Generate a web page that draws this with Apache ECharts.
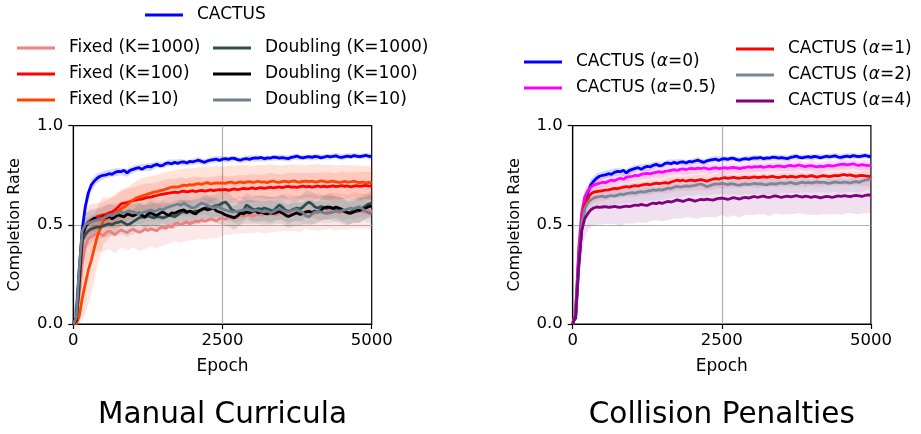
<!DOCTYPE html>
<html>
<head>
<meta charset="utf-8">
<script src="https://cdn.jsdelivr.net/npm/echarts@6/dist/echarts.min.js"></script>
<style>
html,body{margin:0;padding:0;background:#fff;}
#chart{width:921px;height:434px;}
</style>
</head>
<body>
<div id="chart"></div>
<script>
// ---------- DATA ----------
const epochStep = 50;           // line samples every 50 epochs (0..5000)
const bandStep = 100;           // band half-widths every 100 epochs (0..5000)
const xTicks = [0, 2500, 5000];
const yTicks = [0.0, 0.5, 1.0];
const panelTitles = ['Manual Curricula', 'Collision Penalties'];

// Left panel: Manual Curricula
const cactus = [
0.01,0.03,0.28,0.48,0.59,0.66,0.70,0.72,0.735,0.745,
0.75,0.752,0.758,0.755,0.765,0.77,0.768,0.775,0.762,0.775,
0.78,0.785,0.788,0.78,0.79,0.795,0.792,0.80,0.805,0.798,
0.80,0.81,0.812,0.808,0.815,0.81,0.816,0.818,0.812,0.82,
0.818,0.822,0.826,0.82,0.815,0.823,0.826,0.829,0.831,0.825,
0.832,0.834,0.83,0.836,0.835,0.829,0.826,0.832,0.834,0.83,
0.835,0.838,0.836,0.84,0.833,0.838,0.836,0.842,0.84,0.837,
0.839,0.836,0.834,0.84,0.843,0.847,0.84,0.838,0.841,0.844,
0.84,0.845,0.843,0.838,0.842,0.846,0.843,0.845,0.848,0.842,
0.84,0.844,0.847,0.843,0.849,0.846,0.844,0.847,0.85,0.846,
0.844];
const fixed1000 = [
0.0,0.01,0.15,0.30,0.39,0.43,0.44,0.45,0.46,0.455,
0.445,0.46,0.47,0.46,0.45,0.465,0.475,0.468,0.46,0.472,
0.478,0.47,0.462,0.468,0.478,0.472,0.48,0.475,0.47,0.485,
0.49,0.482,0.495,0.488,0.505,0.51,0.5,0.508,0.515,0.505,
0.512,0.52,0.515,0.525,0.518,0.522,0.53,0.525,0.52,0.532,
0.535,0.528,0.54,0.532,0.545,0.538,0.55,0.542,0.548,0.552,
0.545,0.55,0.556,0.548,0.553,0.56,0.552,0.558,0.55,0.556,
0.562,0.555,0.56,0.552,0.558,0.565,0.556,0.562,0.568,0.558,
0.563,0.556,0.565,0.57,0.56,0.566,0.572,0.562,0.567,0.56,
0.566,0.572,0.563,0.568,0.574,0.565,0.57,0.563,0.568,0.572,
0.567];
const fixed100 = [
0.0,0.02,0.2,0.42,0.49,0.515,0.525,0.53,0.54,0.545,
0.55,0.553,0.56,0.565,0.575,0.59,0.605,0.61,0.612,0.618,
0.622,0.625,0.628,0.63,0.635,0.638,0.64,0.645,0.648,0.652,
0.655,0.658,0.66,0.663,0.665,0.662,0.667,0.67,0.666,0.669,
0.672,0.668,0.671,0.674,0.67,0.673,0.676,0.672,0.675,0.678,
0.676,0.679,0.674,0.678,0.681,0.677,0.68,0.684,0.681,0.683,
0.686,0.682,0.685,0.688,0.684,0.687,0.69,0.686,0.689,0.692,
0.688,0.691,0.694,0.69,0.692,0.689,0.693,0.695,0.691,0.694,
0.69,0.693,0.696,0.692,0.695,0.691,0.694,0.697,0.693,0.695,
0.698,0.694,0.696,0.692,0.695,0.698,0.694,0.697,0.699,0.695,
0.697];
const fixed10 = [
0.0,0.0,0.04,0.13,0.20,0.27,0.32,0.38,0.44,0.48,
0.52,0.53,0.535,0.55,0.56,0.57,0.58,0.59,0.60,0.615,
0.625,0.635,0.64,0.645,0.65,0.655,0.66,0.665,0.668,0.672,
0.675,0.68,0.685,0.69,0.692,0.69,0.695,0.7,0.698,0.703,
0.7,0.705,0.708,0.704,0.71,0.713,0.706,0.709,0.712,0.71,
0.712,0.709,0.714,0.716,0.71,0.713,0.717,0.712,0.715,0.718,
0.714,0.716,0.72,0.715,0.717,0.713,0.718,0.721,0.716,0.714,
0.718,0.72,0.716,0.719,0.722,0.717,0.715,0.719,0.721,0.718,
0.72,0.716,0.718,0.722,0.719,0.715,0.718,0.72,0.717,0.714,
0.716,0.719,0.715,0.717,0.72,0.716,0.713,0.715,0.712,0.714,
0.71];
const doubling1000 = [
0.0,0.02,0.2,0.42,0.45,0.47,0.48,0.485,0.49,0.488,
0.495,0.5,0.505,0.50,0.51,0.512,0.518,0.51,0.5,0.505,
0.515,0.525,0.535,0.54,0.538,0.545,0.54,0.535,0.542,0.54,
0.535,0.54,0.548,0.545,0.54,0.55,0.562,0.566,0.56,0.568,
0.565,0.57,0.568,0.575,0.582,0.59,0.585,0.592,0.598,0.60,
0.61,0.615,0.6,0.578,0.57,0.565,0.56,0.572,0.6,0.59,
0.58,0.575,0.582,0.578,0.585,0.58,0.575,0.57,0.585,0.6,
0.59,0.575,0.568,0.572,0.58,0.585,0.58,0.59,0.605,0.615,
0.605,0.59,0.585,0.592,0.588,0.582,0.59,0.585,0.578,0.575,
0.57,0.565,0.56,0.565,0.572,0.568,0.575,0.585,0.595,0.605,
0.61];
const doubling100 = [
0.0,0.02,0.25,0.45,0.49,0.51,0.52,0.535,0.525,0.53,
0.54,0.535,0.545,0.53,0.54,0.55,0.545,0.54,0.555,0.55,
0.545,0.552,0.56,0.548,0.54,0.555,0.56,0.552,0.548,0.558,
0.565,0.555,0.548,0.56,0.558,0.566,0.572,0.575,0.565,0.57,
0.56,0.555,0.57,0.578,0.583,0.575,0.58,0.585,0.57,0.565,
0.558,0.55,0.545,0.54,0.535,0.545,0.56,0.555,0.565,0.56,
0.566,0.572,0.56,0.565,0.558,0.555,0.562,0.558,0.562,0.568,
0.56,0.55,0.542,0.548,0.555,0.56,0.552,0.558,0.565,0.568,
0.562,0.57,0.565,0.574,0.585,0.59,0.588,0.582,0.59,0.585,
0.578,0.57,0.56,0.558,0.565,0.575,0.572,0.58,0.585,0.592,
0.595];
const doubling10 = [
0.0,0.03,0.28,0.47,0.5,0.51,0.515,0.52,0.525,0.53,
0.535,0.54,0.55,0.545,0.555,0.56,0.565,0.56,0.568,0.57,
0.565,0.56,0.555,0.56,0.565,0.57,0.575,0.568,0.572,0.58,
0.575,0.585,0.59,0.595,0.6,0.605,0.598,0.61,0.6,0.592,
0.585,0.59,0.6,0.61,0.605,0.598,0.59,0.585,0.592,0.588,
0.58,0.575,0.57,0.566,0.565,0.568,0.572,0.575,0.58,0.578,
0.57,0.575,0.572,0.568,0.565,0.57,0.562,0.565,0.575,0.58,
0.575,0.568,0.565,0.57,0.575,0.578,0.57,0.56,0.545,0.54,
0.555,0.565,0.568,0.565,0.56,0.558,0.56,0.565,0.57,0.568,
0.572,0.575,0.58,0.585,0.58,0.588,0.59,0.58,0.568,0.56,
0.558];

// Right panel: Collision Penalties
const alpha0 = cactus;
const alpha05 = [
0.0,0.06,0.38,0.56,0.64,0.67,0.69,0.70,0.705,0.71,
0.715,0.712,0.72,0.726,0.722,0.73,0.735,0.73,0.74,0.743,
0.745,0.75,0.748,0.755,0.758,0.76,0.757,0.762,0.765,0.768,
0.765,0.77,0.772,0.775,0.778,0.774,0.78,0.782,0.778,0.783,
0.785,0.782,0.786,0.783,0.788,0.784,0.781,0.786,0.788,0.784,
0.786,0.789,0.785,0.788,0.79,0.787,0.784,0.788,0.79,0.793,
0.79,0.794,0.792,0.795,0.79,0.793,0.796,0.792,0.795,0.798,
0.795,0.792,0.797,0.8,0.796,0.798,0.802,0.797,0.794,0.797,
0.799,0.795,0.792,0.796,0.794,0.797,0.8,0.796,0.799,0.803,
0.805,0.806,0.802,0.805,0.808,0.803,0.8,0.804,0.801,0.799,
0.80];
const alpha1 = [
0.0,0.05,0.33,0.52,0.6,0.63,0.655,0.665,0.667,0.67,
0.672,0.675,0.676,0.68,0.684,0.682,0.687,0.69,0.693,0.69,
0.695,0.698,0.695,0.7,0.703,0.705,0.702,0.707,0.71,0.708,
0.71,0.713,0.71,0.716,0.72,0.726,0.722,0.725,0.72,0.724,
0.726,0.722,0.725,0.728,0.724,0.72,0.726,0.73,0.733,0.731,
0.735,0.738,0.734,0.737,0.74,0.736,0.735,0.738,0.74,0.737,
0.739,0.742,0.738,0.74,0.743,0.739,0.742,0.745,0.741,0.738,
0.742,0.745,0.741,0.744,0.743,0.74,0.744,0.747,0.743,0.745,
0.748,0.744,0.741,0.745,0.748,0.746,0.743,0.746,0.749,0.747,
0.751,0.754,0.75,0.752,0.748,0.745,0.748,0.75,0.747,0.744,
0.745];
const alpha2 = [
0.0,0.05,0.32,0.5,0.58,0.61,0.625,0.635,0.64,0.642,
0.645,0.64,0.645,0.648,0.645,0.65,0.655,0.652,0.658,0.66,
0.662,0.66,0.665,0.668,0.665,0.67,0.672,0.676,0.674,0.678,
0.675,0.68,0.685,0.683,0.69,0.694,0.69,0.693,0.697,0.694,
0.696,0.699,0.703,0.706,0.7,0.692,0.698,0.703,0.707,0.705,
0.709,0.706,0.703,0.708,0.705,0.702,0.7,0.704,0.707,0.703,
0.706,0.709,0.705,0.708,0.704,0.702,0.706,0.708,0.705,0.709,
0.712,0.708,0.711,0.714,0.71,0.707,0.712,0.715,0.711,0.714,
0.71,0.714,0.717,0.713,0.716,0.712,0.709,0.713,0.717,0.714,
0.712,0.716,0.714,0.711,0.715,0.718,0.714,0.72,0.725,0.728,
0.73];
const alpha4 = [
0.0,0.04,0.3,0.47,0.53,0.555,0.575,0.585,0.59,0.588,
0.59,0.592,0.588,0.59,0.593,0.59,0.588,0.592,0.594,0.592,
0.596,0.6,0.598,0.603,0.6,0.598,0.605,0.61,0.607,0.612,
0.608,0.614,0.618,0.615,0.62,0.626,0.622,0.618,0.624,0.628,
0.625,0.62,0.624,0.628,0.626,0.63,0.627,0.625,0.63,0.633,
0.635,0.632,0.628,0.633,0.637,0.634,0.63,0.636,0.639,0.635,
0.64,0.643,0.638,0.642,0.645,0.64,0.638,0.643,0.646,0.642,
0.638,0.642,0.645,0.641,0.644,0.647,0.643,0.64,0.645,0.642,
0.639,0.643,0.641,0.636,0.64,0.644,0.642,0.638,0.642,0.646,
0.643,0.647,0.645,0.642,0.646,0.649,0.646,0.643,0.648,0.651,
0.65];

// Band half-widths (std), every 100 epochs
const bandCactus = [0,0.06,0.04,0.03,0.025,0.02,0.02,0.02,0.018,0.02,
0.018,0.016,0.018,0.02,0.016,0.015,0.017,0.015,0.016,0.014,
0.015,0.016,0.014,0.015,0.017,0.014,0.015,0.013,0.015,0.014,
0.015,0.016,0.014,0.013,0.015,0.014,0.016,0.015,0.014,0.013,
0.015,0.014,0.013,0.015,0.014,0.016,0.014,0.013,0.015,0.014,0.014];
const bandFixed1000 = [0,0.08,0.12,0.1,0.09,0.085,0.09,0.095,0.088,0.092,
0.09,0.095,0.1,0.092,0.088,0.094,0.09,0.086,0.092,0.095,
0.09,0.087,0.093,0.096,0.09,0.085,0.092,0.088,0.094,0.09,
0.087,0.092,0.095,0.09,0.086,0.091,0.094,0.089,0.092,0.088,
0.09,0.093,0.087,0.091,0.095,0.09,0.088,0.092,0.089,0.086,0.09];
const bandFixed100 = [0,0.1,0.1,0.08,0.07,0.065,0.07,0.068,0.072,0.07,
0.068,0.07,0.074,0.07,0.066,0.07,0.073,0.069,0.071,0.068,
0.07,0.072,0.069,0.066,0.07,0.074,0.07,0.067,0.071,0.069,
0.072,0.068,0.07,0.073,0.069,0.066,0.07,0.072,0.068,0.07,
0.071,0.067,0.07,0.073,0.069,0.071,0.068,0.07,0.072,0.069,0.07];
const bandFixed10 = [0,0.04,0.15,0.17,0.15,0.12,0.1,0.095,0.09,0.088,
0.085,0.088,0.09,0.086,0.084,0.088,0.085,0.082,0.086,0.088,
0.084,0.082,0.086,0.088,0.084,0.08,0.085,0.087,0.083,0.086,
0.084,0.081,0.085,0.088,0.084,0.082,0.086,0.083,0.085,0.081,
0.084,0.087,0.083,0.085,0.082,0.086,0.084,0.081,0.085,0.083,0.084];
const bandDoubling1000 = [0,0.1,0.08,0.07,0.065,0.06,0.065,0.062,0.066,0.06,
0.063,0.067,0.061,0.064,0.068,0.062,0.065,0.06,0.064,0.067,
0.062,0.065,0.068,0.063,0.06,0.064,0.066,0.062,0.065,0.061,
0.064,0.067,0.062,0.065,0.06,0.063,0.066,0.062,0.064,0.067,
0.063,0.06,0.064,0.066,0.061,0.065,0.063,0.06,0.064,0.062,0.063];
const bandDoubling100 = [0,0.1,0.07,0.06,0.058,0.055,0.06,0.057,0.055,0.06,
0.058,0.055,0.06,0.062,0.057,0.055,0.059,0.061,0.056,0.058,
0.06,0.057,0.055,0.059,0.062,0.058,0.055,0.06,0.057,0.059,
0.061,0.056,0.058,0.06,0.057,0.055,0.059,0.061,0.057,0.058,
0.06,0.056,0.059,0.057,0.055,0.06,0.058,0.056,0.059,0.057,0.058];
const bandDoubling10 = [0,0.09,0.06,0.055,0.052,0.05,0.054,0.051,0.053,0.05,
0.052,0.055,0.05,0.053,0.051,0.054,0.05,0.052,0.055,0.051,
0.053,0.05,0.054,0.052,0.05,0.053,0.055,0.051,0.052,0.054,
0.05,0.053,0.051,0.054,0.052,0.05,0.053,0.055,0.051,0.052,
0.054,0.05,0.053,0.051,0.054,0.052,0.05,0.053,0.051,0.052,0.053];
const bandAlpha05 = [0,0.06,0.04,0.03,0.028,0.025,0.027,0.025,0.024,0.026,
0.025,0.023,0.026,0.024,0.025,0.027,0.024,0.023,0.025,0.026,
0.024,0.025,0.023,0.026,0.024,0.025,0.027,0.024,0.023,0.025,
0.026,0.024,0.025,0.023,0.026,0.024,0.025,0.027,0.024,0.023,
0.025,0.026,0.024,0.025,0.023,0.026,0.024,0.025,0.024,0.026,0.025];
const bandAlpha1 = [0,0.07,0.06,0.055,0.05,0.052,0.05,0.048,0.051,0.05,
0.053,0.049,0.05,0.052,0.048,0.051,0.05,0.053,0.049,0.05,
0.052,0.05,0.048,0.051,0.053,0.05,0.049,0.052,0.05,0.048,
0.051,0.053,0.05,0.049,0.052,0.05,0.048,0.051,0.05,0.053,
0.049,0.05,0.052,0.048,0.051,0.05,0.053,0.049,0.05,0.052,0.05];
const bandAlpha2 = [0,0.07,0.06,0.055,0.052,0.05,0.053,0.05,0.048,0.052,
0.05,0.053,0.049,0.051,0.05,0.048,0.052,0.05,0.053,0.049,
0.051,0.05,0.052,0.048,0.05,0.053,0.051,0.049,0.05,0.052,
0.05,0.048,0.052,0.05,0.053,0.049,0.051,0.05,0.052,0.048,
0.05,0.053,0.051,0.049,0.05,0.052,0.05,0.048,0.052,0.05,0.051];
const bandAlpha4 = [0,0.08,0.09,0.085,0.09,0.088,0.082,0.09,0.095,0.086,
0.09,0.084,0.092,0.088,0.083,0.09,0.094,0.087,0.091,0.085,
0.09,0.093,0.086,0.089,0.092,0.085,0.09,0.088,0.094,0.087,
0.091,0.085,0.09,0.093,0.088,0.086,0.092,0.089,0.085,0.091,
0.088,0.093,0.086,0.09,0.087,0.092,0.085,0.089,0.093,0.088,0.09];

// ---------- CHART ----------
const FONT = 'DejaVu Sans';
const epochs = [];
for (let e = 0; e <= 5000; e += epochStep) epochs.push(e);
const bandEpochs = [];
for (let e = 0; e <= 5000; e += bandStep) bandEpochs.push(e);

const chart = echarts.init(document.getElementById('chart'), null, {renderer: 'canvas'});

function lineSeries(name, values, color, idx, z) {
  return {
    name, type: 'line', xAxisIndex: idx, yAxisIndex: idx,
    data: epochs.map((x, i) => [x, values[i]]),
    showSymbol: false, symbol: 'none', color,
    lineStyle: {width: 2.8, color}, z: z, silent: true, animation: false
  };
}
function bandSeries(values, widths, color, idx, opacity) {
  const ratio = bandStep / epochStep;
  const data = bandEpochs.map((x, i) => {
    const m = values[i * ratio];
    return [x, Math.max(0, m - widths[i]), Math.min(1, m + widths[i])];
  });
  return {
    type: 'custom', xAxisIndex: idx, yAxisIndex: idx, silent: true, z: 1,
    clip: true, animation: false,
    encode: {x: 0, y: [1, 2]},
    data,
    renderItem: function (params, api) {
      if (params.dataIndex !== 0) return null;
      const pts = [];
      for (let i = 0; i < data.length; i++) pts.push(api.coord([data[i][0], data[i][2]]));
      for (let i = data.length - 1; i >= 0; i--) pts.push(api.coord([data[i][0], data[i][1]]));
      return {type: 'polygon', shape: {points: pts}, style: {fill: color, opacity: opacity}};
    }
  };
}

const grids = [
  {left: 73.3, top: 125.7, width: 298.4, height: 198.3},
  {left: 572.7, top: 125.7, width: 298.2, height: 198.3}
];
function xAxis(idx) {
  return {
    type: 'value', gridIndex: idx, min: xTicks[0], max: xTicks[xTicks.length - 1], interval: xTicks[1] - xTicks[0],
    name: 'Epoch', nameLocation: 'middle', nameGap: 34,
    nameTextStyle: {fontFamily: FONT, fontSize: 17, color: '#000'},
    axisLine: {show: true, onZero: false, lineStyle: {color: '#000', width: 1.2}},
    axisTick: {show: true, length: 5, inside: false, lineStyle: {color: '#000', width: 1.2}},
    axisLabel: {fontFamily: FONT, fontSize: 16.5, color: '#000', margin: 8, showMinLabel: true, showMaxLabel: true, formatter: v => String(v)},
    splitLine: {show: true, showMinLine: false, showMaxLine: false, lineStyle: {color: '#b0b0b0', width: 1.2}}
  };
}
function yAxis(idx) {
  return {
    type: 'value', gridIndex: idx, min: yTicks[0], max: yTicks[yTicks.length - 1], interval: yTicks[1] - yTicks[0],
    name: 'Completion Rate', nameLocation: 'middle', nameGap: 50,
    nameTextStyle: {fontFamily: FONT, fontSize: 16, color: '#000'},
    axisLine: {show: true, onZero: false, lineStyle: {color: '#000', width: 1.2}},
    axisTick: {show: true, length: 5, inside: false, lineStyle: {color: '#000', width: 1.2}},
    axisLabel: {fontFamily: FONT, fontSize: 16.5, color: '#000', margin: 10, formatter: v => v.toFixed(1)},
    splitLine: {show: true, showMinLine: false, showMaxLine: false, lineStyle: {color: '#b0b0b0', width: 1.2}}
  };
}

const legendText = {
  fontFamily: FONT, fontSize: 17, color: '#000', lineHeight: 26,
  rich: {
    sp: {width: 9, lineHeight: 26},
    t: {fontFamily: FONT, fontSize: 17, lineHeight: 26, color: '#000'},
    i: {fontFamily: FONT, fontSize: 17, lineHeight: 26, color: '#000', fontStyle: 'italic'}
  }
};
function legendFormatter(name) {
  const m = name.match(/^(.*)α(.*)$/);
  if (m) return '{sp|}{t|' + m[1] + '}{i|α}{t|' + m[2] + '}';
  return '{sp|}{t|' + name + '}';
}
function legend(names, left, top) {
  return {
    data: names, left, top, orient: 'vertical', padding: 0, itemGap: 0,
    icon: 'rect', itemWidth: 38, itemHeight: 3, selectedMode: false,
    textStyle: legendText, formatter: legendFormatter
  };
}

const option = {
  animation: false,
  backgroundColor: '#fff',
  grid: grids.map(g => Object.assign({show: true, borderColor: '#000', borderWidth: 1.2, backgroundColor: 'transparent', containLabel: false}, g)),
  xAxis: [xAxis(0), xAxis(1)],
  yAxis: [yAxis(0), yAxis(1)],
  legend: [
    legend(['CACTUS'], 145, 2),
    legend(['Fixed (K=1000)', 'Fixed (K=100)', 'Fixed (K=10)'], 17, 35),
    legend(['Doubling (K=1000)', 'Doubling (K=100)', 'Doubling (K=10)'], 213, 35),
    legend(['CACTUS (α=0)', 'CACTUS (α=0.5)'], 524, 49),
    legend(['CACTUS (α=1)', 'CACTUS (α=2)', 'CACTUS (α=4)'], 736, 36)
  ],
  graphic: [
    {type: 'text', x: 222.5, y: 415, style: {text: panelTitles[0], fontFamily: FONT, fontSize: 29.5, fill: '#000', textAlign: 'center', textVerticalAlign: 'middle'}},
    {type: 'text', x: 721.8, y: 415, style: {text: panelTitles[1], fontFamily: FONT, fontSize: 29.5, fill: '#000', textAlign: 'center', textVerticalAlign: 'middle'}}
  ],
  series: [
    bandSeries(cactus, bandCactus, '#0000ff', 0, 0.15),
    bandSeries(fixed1000, bandFixed1000, '#f08080', 0, 0.18),
    bandSeries(fixed100, bandFixed100, '#ff0000', 0, 0.12),
    bandSeries(fixed10, bandFixed10, '#ff4500', 0, 0.15),
    bandSeries(doubling1000, bandDoubling1000, '#2f4f4f', 0, 0.12),
    bandSeries(doubling100, bandDoubling100, '#000000', 0, 0.1),
    bandSeries(doubling10, bandDoubling10, '#708090', 0, 0.12),
    lineSeries('CACTUS', cactus, '#0000ff', 0, 3),
    lineSeries('Fixed (K=1000)', fixed1000, '#f08080', 0, 3),
    lineSeries('Fixed (K=100)', fixed100, '#ff0000', 0, 3),
    lineSeries('Fixed (K=10)', fixed10, '#ff4500', 0, 3),
    lineSeries('Doubling (K=1000)', doubling1000, '#2f4f4f', 0, 3),
    lineSeries('Doubling (K=100)', doubling100, '#000000', 0, 3),
    lineSeries('Doubling (K=10)', doubling10, '#708090', 0, 3),

    bandSeries(alpha0, bandCactus, '#0000ff', 1, 0.15),
    bandSeries(alpha05, bandAlpha05, '#ff00ff', 1, 0.12),
    bandSeries(alpha1, bandAlpha1, '#ff0000', 1, 0.1),
    bandSeries(alpha2, bandAlpha2, '#778899', 1, 0.12),
    bandSeries(alpha4, bandAlpha4, '#800080', 1, 0.12),
    lineSeries('CACTUS (α=0)', alpha0, '#0000ff', 1, 3),
    lineSeries('CACTUS (α=0.5)', alpha05, '#ff00ff', 1, 3),
    lineSeries('CACTUS (α=1)', alpha1, '#ff0000', 1, 3),
    lineSeries('CACTUS (α=2)', alpha2, '#778899', 1, 3),
    lineSeries('CACTUS (α=4)', alpha4, '#800080', 1, 3)
  ]
};
chart.setOption(option);
</script>
</body>
</html>
